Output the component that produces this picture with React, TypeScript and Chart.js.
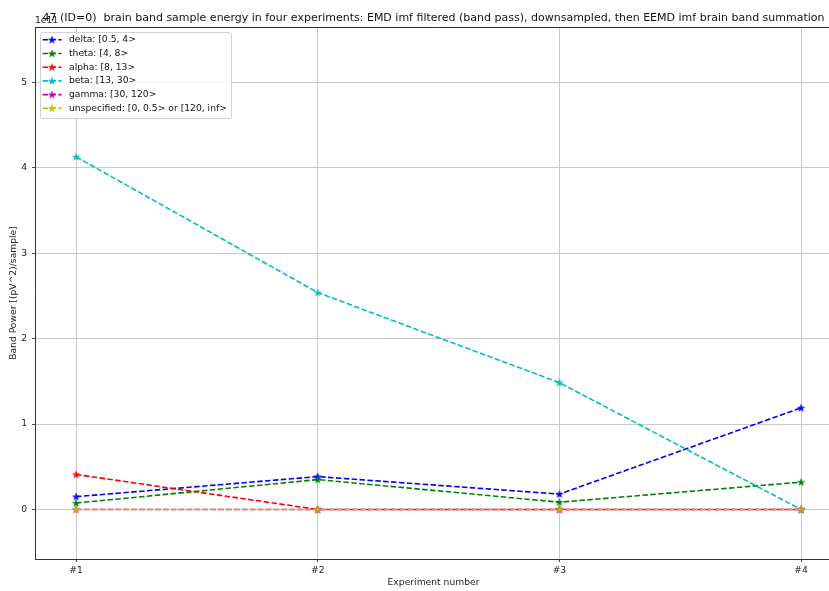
import React, { useEffect, useRef } from "react";
import { Chart, registerables } from "chart.js";

Chart.register(...registerables);

// Values are in units of 1e11 pV^2/sample
const experiments = ["#1", "#2", "#3", "#4"];
const deltaValues = [0.15, 0.385, 0.18, 1.19];
const thetaValues = [0.075, 0.35, 0.085, 0.32];
const alphaValues = [0.41, 0.0, 0.0, 0.0];
const betaValues = [4.13, 2.54, 1.485, 0.0];
const gammaValues = [0.0, 0.0, 0.0, 0.0];
const unspecifiedValues = [0.0, 0.0, 0.0, 0.0];
const yTicks = [0, 1, 2, 3, 4, 5];

const seriesLabels = [
  "delta: [0.5, 4>",
  "theta: [4, 8>",
  "alpha: [8, 13>",
  "beta: [13, 30>",
  "gamma: [30, 120>",
  "unspecified: [0, 0.5> or [120, inf>",
];
const seriesValues = [deltaValues, thetaValues, alphaValues, betaValues, gammaValues, unspecifiedValues];
const seriesColors = ["#0000ff", "#008000", "#ff0000", "#00bfbf", "#bf00bf", "#bfbf00"];

const TITLE =
  "47 (ID=0)  brain band sample energy in four experiments: EMD imf filtered (band pass), downsampled, then EEMD imf brain band summation";
const FONT = "DejaVu Sans";
const W = 840;
const H = 591;
const SMALL = 9.2;
const LINE_W = 1.6;

function makeStar(color: string): HTMLCanvasElement {
  const c = document.createElement("canvas");
  const s = 10;
  c.width = s;
  c.height = s;
  const ctx = c.getContext("2d")!;
  const cx = s / 2;
  const cy = s / 2 + 0.3;
  const R = 3.7;
  const r = R * 0.382;
  ctx.beginPath();
  for (let i = 0; i < 10; i++) {
    const rad = i % 2 === 0 ? R : r;
    const a = -Math.PI / 2 + (i * Math.PI) / 5;
    const x = cx + rad * Math.cos(a);
    const y = cy + rad * Math.sin(a);
    if (i === 0) ctx.moveTo(x, y);
    else ctx.lineTo(x, y);
  }
  ctx.closePath();
  ctx.fillStyle = color;
  ctx.fill();
  ctx.strokeStyle = color;
  ctx.lineWidth = 0.6;
  ctx.stroke();
  return c;
}

export default function App() {
  const ref = useRef<HTMLCanvasElement | null>(null);

  useEffect(() => {
    const canvas = ref.current;
    if (!canvas) return;
    const stars = seriesColors.map((c) => makeStar(c));
    const dash = [5.5, 2.4];

    const decor = {
      id: "decor",
      afterDraw(chart: any) {
        const ctx = chart.ctx as CanvasRenderingContext2D;
        const a = chart.chartArea;
        ctx.save();
        // top/right spines
        ctx.strokeStyle = "#333333";
        ctx.lineWidth = 1;
        ctx.beginPath();
        ctx.moveTo(a.left, a.top + 0.5);
        ctx.lineTo(a.right, a.top + 0.5);
        ctx.lineTo(a.right, a.bottom);
        ctx.stroke();
        // title
        ctx.fillStyle = "#111111";
        ctx.font = `11px "${FONT}"`;
        ctx.textAlign = "center";
        ctx.textBaseline = "middle";
        ctx.fillText(TITLE, (a.left + a.right) / 2, 18);
        // offset text
        ctx.font = `${SMALL}px "${FONT}"`;
        ctx.textAlign = "left";
        ctx.textBaseline = "bottom";
        ctx.fillStyle = "#222222";
        ctx.fillText("1e11", a.left, a.top - 2);
        // legend
        const lx = 40, ly = 32, lw = 191, lh = 86;
        ctx.fillStyle = "rgba(255,255,255,0.8)";
        ctx.strokeStyle = "#d0d0d0";
        ctx.lineWidth = 1;
        ctx.beginPath();
        (ctx as any).roundRect(lx + 0.5, ly + 0.5, lw, lh, 2);
        ctx.fill();
        ctx.stroke();
        const rowY0 = 39.8;
        const rowStep = 13.7;
        chart.data.datasets.forEach((ds: any, i: number) => {
          const y = rowY0 + i * rowStep;
          ctx.strokeStyle = ds.borderColor;
          ctx.lineWidth = LINE_W;
          ctx.setLineDash(dash);
          ctx.beginPath();
          ctx.moveTo(42.5, y);
          ctx.lineTo(61.5, y);
          ctx.stroke();
          ctx.setLineDash([]);
          const img = stars[i];
          ctx.drawImage(img, 52 - img.width / 2, y - img.height / 2);
          ctx.fillStyle = "#111111";
          ctx.font = `${SMALL}px "${FONT}"`;
          ctx.textAlign = "left";
          ctx.textBaseline = "middle";
          ctx.fillText(ds.label, 69, y);
        });
        ctx.restore();
      },
    };

    const tickFont = { family: FONT, size: SMALL };
    const chart = new Chart(canvas, {
      type: "line",
      data: {
        datasets: seriesLabels.map((label, i) => ({
          label,
          data: seriesValues[i].map((v, j) => ({ x: j, y: v })),
          borderColor: seriesColors[i],
          backgroundColor: seriesColors[i],
          borderWidth: LINE_W,
          borderDash: dash,
          pointStyle: stars[i],
          pointRadius: 4,
          fill: false,
          tension: 0,
          order: 5 - i,
        })),
      },
      options: {
        animation: false,
        responsive: false,
        maintainAspectRatio: false,
        devicePixelRatio: 1,
        layout: { padding: { left: 0, top: 27, right: W - 832, bottom: 0 } },
        plugins: {
          legend: { display: false },
          title: { display: false },
          tooltip: { enabled: false },
        },
        scales: {
          x: {
            type: "linear",
            min: -0.17,
            max: 3.128,
            afterBuildTicks: (s: any) => {
              s.ticks = experiments.map((_, i) => ({ value: i }));
            },
            afterFit: (s: any) => {
              s.height = 32;
            },
            ticks: {
              callback: (v: any) => experiments[v as number] ?? "",
              font: tickFont,
              color: "#222222",
              padding: 3,
              autoSkip: false,
              maxRotation: 0,
            },
            grid: { color: "#c4c4c4", lineWidth: 0.9, tickLength: 3, tickColor: "#333333" },
            border: { color: "#333333", width: 1 },
            title: {
              display: true,
              text: "Experiment number",
              font: tickFont,
              color: "#222222",
              padding: { top: 0, bottom: 2.6 },
            },
          },
          y: {
            type: "linear",
            min: -0.58,
            max: 5.65,
            afterBuildTicks: (s: any) => {
              s.ticks = yTicks.map((v) => ({ value: v }));
            },
            afterFit: (s: any) => {
              s.width = 35;
            },
            ticks: {
              callback: (v: any) => String(v),
              font: tickFont,
              color: "#222222",
              padding: 5,
            },
            grid: { color: "#c4c4c4", lineWidth: 0.9, tickLength: 3, tickColor: "#333333" },
            border: { color: "#333333", width: 1 },
            title: {
              display: true,
              text: "Band Power [(pV^2)/sample]",
              font: tickFont,
              color: "#222222",
              padding: { top: 8, bottom: 0 },
            },
          },
        },
      },
      plugins: [decor],
    } as any);

    return () => chart.destroy();
  }, []);

  return (
    <div
      style={{
        position: "absolute",
        left: 0,
        top: 0,
        width: 829,
        height: H,
        overflow: "hidden",
        background: "#ffffff",
      }}
    >
      <canvas ref={ref} width={W} height={H} style={{ width: W, height: H, display: "block" }} />
    </div>
  );
}
